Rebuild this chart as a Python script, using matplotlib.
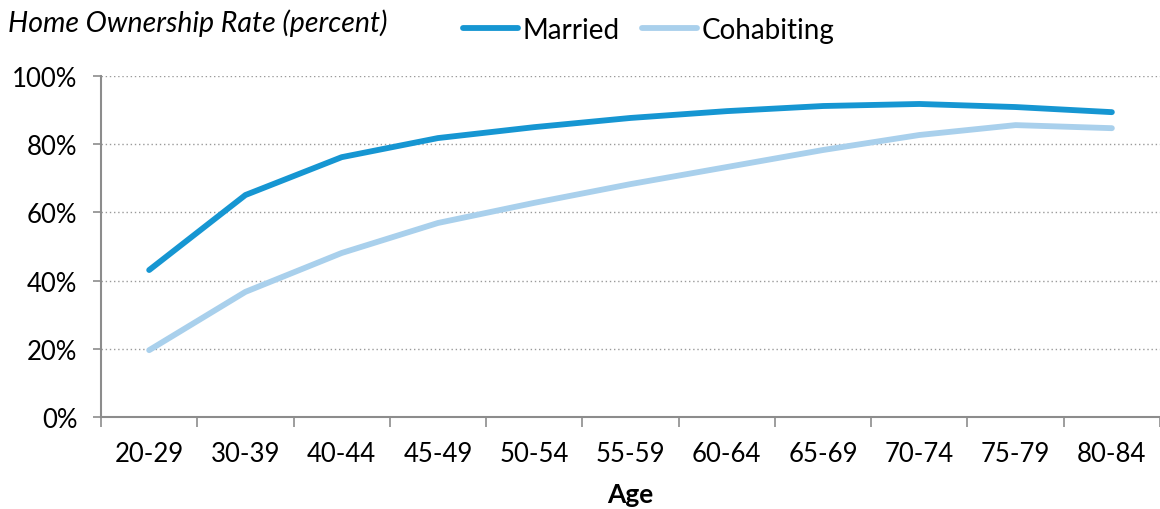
import numpy as np
import matplotlib
matplotlib.use('Agg')
import matplotlib.pyplot as plt
from matplotlib.ticker import FixedLocator, PercentFormatter

plt.rcParams['font.family'] = ['Lato', 'DejaVu Sans']

ages = ['20-29', '30-39', '40-44', '45-49', '50-54', '55-59',
        '60-64', '65-69', '70-74', '75-79', '80-84']
married = [43.1, 65.1, 76.2, 81.8, 85.0, 87.7, 89.7, 91.2, 91.8, 90.9, 89.4]
cohabiting = [19.6, 36.7, 48.1, 56.9, 62.8, 68.3, 73.3, 78.3, 82.7, 85.6, 84.7]

blue = '#1696d2'
light = '#a9d0ec'
axcol = '#8c8c8c'

fig = plt.figure(figsize=(11.6, 5.1), dpi=100)
ax = fig.add_axes([0.0871, 0.1804, 0.9129, 0.6686])

x = np.arange(len(ages))
ax.plot(x, married, color=blue, lw=4.2, solid_capstyle='round', label='Married')
ax.plot(x, cohabiting, color=light, lw=4.2, solid_capstyle='round', label='Cohabiting')

ax.set_xlim(-0.5, len(ages) - 0.5)
ax.set_ylim(0, 100)
ax.set_xticks(x)
ax.set_xticklabels(ages)
ax.xaxis.set_minor_locator(FixedLocator(np.arange(-0.5, len(ages), 1.0)))
ax.tick_params(axis='x', which='major', length=0, pad=17, labelsize=18.5)
ax.tick_params(axis='x', which='minor', length=7, color=axcol, width=1.2)
ax.set_yticks(np.arange(0, 101, 20))
ax.yaxis.set_major_formatter(PercentFormatter(decimals=0))
ax.tick_params(axis='y', length=6, color=axcol, width=1.2, labelsize=18.5, pad=11)

for s in ['top', 'right']:
    ax.spines[s].set_visible(False)
for s in ['left', 'bottom']:
    ax.spines[s].set_color(axcol)
    ax.spines[s].set_linewidth(1.5)

for v in range(20, 101, 20):
    ax.axhline(v, color='#9a9a9a', lw=1, ls=(0, (1, 2)), zorder=0)

ax.set_xlabel('Age', fontsize=19, fontweight='bold', labelpad=12)

fig.text(0.007, 0.955, 'Home Ownership Rate (percent)', fontsize=20.5,
         style='italic', va='center', ha='left')
fig.legend(loc='center left', bbox_to_anchor=(0.399, 0.94), ncol=2,
           frameon=False, fontsize=20, handlelength=2.0, handletextpad=0.15,
           columnspacing=0.8, borderpad=0, borderaxespad=0)

fig.savefig('out.png', dpi=100)
